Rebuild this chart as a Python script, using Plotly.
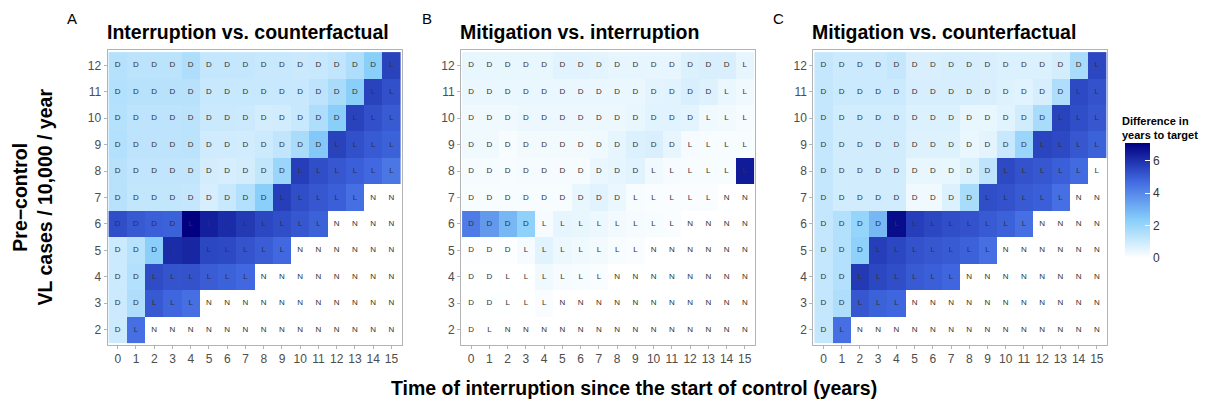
"""Years-to-target difference heatmaps — three panels with D/L/N cell labels."""

import plotly.graph_objects as go

# page body adds an 8px margin, so the figure is 8px smaller and shifted
OFF = 8
W, H = 1208 - OFF, 406 - OFF
FONT = "Liberation Sans, Arial, Helvetica, sans-serif"
TICK_GREY = "#4D4D4D"
LINE_GREY = "#B3B3B3"

X_YEARS = list(range(16))
Y_CASES = [12, 11, 10, 9, 8, 7, 6, 5, 4, 3, 2]

# cell letters, rows from 12 down to 2 (same in all three panels)
LETTERS = [
    "DDDDDDDDDDDDDDDL",
    "DDDDDDDDDDDDDDLL",
    "DDDDDDDDDDDDDLLL",
    "DDDDDDDDDDDDLLLL",
    "DDDDDDDDDDLLLLLL",
    "DDDDDDDDDLLLLLNN",
    "DDDDLLLLLLLLNNNN",
    "DDDLLLLLLLNNNNNN",
    "DDLLLLLLNNNNNNNN",
    "DDLLLNNNNNNNNNNN",
    "DLNNNNNNNNNNNNNN",
]

N = None

# A: interruption vs counterfactual
VAL_A = [
    [1.45, 1.35, 1.35, 1.35, 1.6, 1.15, 1.15, 1.15, 1.1, 1.1, 1.05, 1.1, 1.25, 1.6, 2.3, 5.6],
    [1.5, 1.4, 1.4, 1.4, 1.4, 1.1, 1.1, 1.1, 1.1, 1.1, 1.1, 1.3, 1.7, 2.3, 5.6, 5.3],
    [1.45, 1.3, 1.3, 1.3, 1.35, 1.05, 1.05, 1.0, 0.85, 0.9, 1.1, 1.6, 2.3, 5.6, 5.3, 5.05],
    [1.5, 1.3, 1.3, 1.3, 1.35, 0.95, 0.95, 0.9, 1.0, 1.25, 1.7, 2.5, 5.6, 5.3, 5.05, 4.9],
    [1.4, 1.25, 1.25, 1.25, 1.25, 0.85, 0.8, 0.85, 1.2, 2.0, 5.7, 5.35, 5.15, 4.95, 4.75, 4.4],
    [1.4, 1.2, 1.2, 1.2, 1.15, 0.8, 1.1, 1.5, 2.3, 5.7, 5.35, 5.15, 4.95, 4.6, N, N],
    [5.35, 5.1, 4.95, 4.9, 7.1, 6.4, 6.1, 5.8, 5.5, 5.35, 5.15, 4.9, N, N, N, N],
    [1.0, 1.4, 2.3, 6.1, 6.25, 5.5, 5.45, 5.2, 5.0, 4.75, N, N, N, N, N, N],
    [1.0, 1.5, 5.4, 5.2, 5.25, 5.0, 4.9, 4.75, N, N, N, N, N, N, N, N],
    [1.0, 1.6, 5.1, 4.8, 4.6, N, N, N, N, N, N, N, N, N, N, N],
    [1.0, 4.6, N, N, N, N, N, N, N, N, N, N, N, N, N, N],
]

# B: mitigation vs interruption
VAL_B = [
    [0.45, 0.45, 0.45, 0.45, 0.45, 0.6, 0.6, 0.55, 0.5, 0.5, 0.5, 0.5, 0.7, 0.75, 0.75, 0.5],
    [0.4, 0.4, 0.4, 0.4, 0.4, 0.4, 0.4, 0.4, 0.4, 0.4, 0.55, 0.6, 0.75, 0.65, 0.4, 0.3],
    [0.3, 0.3, 0.3, 0.35, 0.35, 0.35, 0.35, 0.35, 0.35, 0.45, 0.6, 0.6, 0.55, 0.3, 0.25, 0.2],
    [0.3, 0.3, 0.15, 0.25, 0.25, 0.25, 0.25, 0.3, 0.5, 0.7, 0.75, 0.5, 0.2, 0.15, 0.15, 0.15],
    [0.2, 0.2, 0.15, 0.2, 0.2, 0.2, 0.2, 0.4, 0.5, 0.6, 0.3, 0.2, 0.15, 0.15, 0.15, 6.5],
    [0.15, 0.15, 0.15, 0.15, 0.15, 0.15, 0.45, 0.6, 0.4, 0.15, 0.1, 0.1, 0.1, 0.1, N, N],
    [4.3, 3.6, 2.9, 2.2, 0.2, 0.5, 0.45, 0.35, 0.25, 0.2, 0.15, 0.1, N, N, N, N],
    [0.05, 0.05, 0.05, 0.2, 0.6, 0.35, 0.3, 0.25, 0.15, 0.1, N, N, N, N, N, N],
    [0.02, 0.02, 0.02, 0.02, 0.3, 0.2, 0.15, 0.1, N, N, N, N, N, N, N, N],
    [0.02, 0.02, 0.02, 0.02, 0.1, N, N, N, N, N, N, N, N, N, N, N],
    [0.0, 0.0, N, N, N, N, N, N, N, N, N, N, N, N, N, N],
]

# C: mitigation vs counterfactual
VAL_C = [
    [1.15, 1.0, 1.0, 1.0, 1.15, 0.75, 0.75, 0.8, 0.8, 0.75, 0.7, 0.7, 0.7, 0.85, 1.7, 5.5],
    [1.15, 1.0, 1.0, 1.0, 1.0, 0.8, 0.8, 0.8, 0.8, 0.75, 0.65, 0.6, 0.8, 1.6, 5.45, 5.25],
    [1.15, 0.9, 0.9, 0.9, 0.9, 0.7, 0.7, 0.7, 0.45, 0.45, 0.6, 0.9, 1.7, 5.6, 5.35, 5.15],
    [1.15, 0.9, 0.9, 0.9, 0.9, 0.65, 0.65, 0.65, 0.4, 0.55, 1.1, 2.0, 5.55, 5.45, 5.15, 4.9],
    [1.15, 0.9, 0.9, 0.9, 0.9, 0.45, 0.45, 0.45, 0.7, 1.3, 5.45, 5.25, 5.15, 4.95, 4.7, N],
    [1.15, 0.9, 0.9, 0.9, 0.9, 0.3, 0.3, 0.7, 1.7, 5.35, 5.25, 5.05, 4.95, 4.6, N, N],
    [1.15, 1.5, 2.1, 2.9, 6.8, 5.7, 5.5, 5.35, 5.25, 5.05, 4.9, 4.6, N, N, N, N],
    [1.15, 1.5, 2.2, 5.7, 5.5, 5.25, 5.15, 5.05, 4.9, 4.6, N, N, N, N, N, N],
    [1.15, 1.5, 5.8, 5.5, 5.35, 5.05, 4.95, 4.8, N, N, N, N, N, N, N, N],
    [1.15, 1.6, 5.15, 4.9, 4.8, N, N, N, N, N, N, N, N, N, N, N],
    [1.15, 4.6, N, N, N, N, N, N, N, N, N, N, N, N, N, N],
]

PANELS = [
    ("A", "Interruption vs. counterfactual", VAL_A),
    ("B", "Mitigation vs. interruption", VAL_B),
    ("C", "Mitigation vs. counterfactual", VAL_C),
]

# pixel geometry (screen pixels) of the three plot areas
PANEL_X = [(107.5, 401.7), (461.0, 755.0), (813.3, 1107.0)]
PANEL_Y = (50.0, 345.0)


def px(x):
    return (x - OFF) / W


def py(y):
    return 1 - (y - OFF) / H


fig = go.Figure()

text_x = [x for row in LETTERS for x in X_YEARS]
text_y = [y for y, row in zip(Y_CASES, LETTERS) for _ in row]
text_s = [ch for row in LETTERS for ch in row]

for i, (tag, title, vals) in enumerate(PANELS):
    sfx = "" if i == 0 else str(i + 1)
    fig.add_trace(
        go.Heatmap(
            x=X_YEARS,
            y=Y_CASES,
            z=vals,
            coloraxis="coloraxis",
            xaxis="x" + sfx,
            yaxis="y" + sfx,
            hoverongaps=False,
        )
    )
    fig.add_trace(
        go.Scatter(
            x=text_x,
            y=text_y,
            text=text_s,
            mode="text",
            textfont=dict(size=8, color="#333333", family=FONT),
            xaxis="x" + sfx,
            yaxis="y" + sfx,
            showlegend=False,
            hoverinfo="skip",
        )
    )

    x0, x1 = PANEL_X[i]
    axis_common = dict(
        showgrid=False,
        zeroline=False,
        showline=True,
        mirror=True,
        linecolor=LINE_GREY,
        linewidth=1,
        ticks="outside",
        ticklen=3,
        tickcolor=LINE_GREY,
        tickfont=dict(size=12, color=TICK_GREY, family=FONT),
        fixedrange=True,
    )
    fig.update_layout(
        {
            "xaxis" + sfx: dict(
                domain=[px(x0), px(x1)],
                range=[-0.56, 15.56],
                tickvals=X_YEARS,
                anchor="y" + sfx,
                **axis_common,
            ),
            "yaxis" + sfx: dict(
                domain=[py(PANEL_Y[1]), py(PANEL_Y[0])],
                range=[1.42, 12.58],
                tickvals=Y_CASES,
                anchor="x" + sfx,
                **axis_common,
            ),
        }
    )

    fig.add_annotation(
        text=tag, x=px([66, 421, 772][i]), y=py(18), xref="paper", yref="paper",
        xanchor="left", yanchor="middle", showarrow=False, borderpad=0,
        font=dict(size=15, color="black", family=FONT),
    )
    fig.add_annotation(
        text="<b>" + title + "</b>", x=px(x0 - 2), y=py(32), xref="paper", yref="paper",
        xanchor="left", yanchor="middle", showarrow=False, borderpad=0,
        font=dict(size=19.5, color="black", family=FONT),
    )

fig.add_annotation(
    text="<b>Pre\u2212control<br>VL cases / 10,000 / year</b>",
    x=px(32), y=py(197.5), xref="paper", yref="paper",
    xanchor="center", yanchor="middle", textangle=-90, showarrow=False,
    font=dict(size=19.5, color="black", family=FONT),
)
fig.add_annotation(
    text="<b>Time of interruption since the start of control (years)</b>",
    x=px(634), y=py(388), xref="paper", yref="paper",
    xanchor="center", yanchor="middle", showarrow=False,
    font=dict(size=19.5, color="black", family=FONT),
)
fig.add_annotation(
    text="<b>Difference in<br>years to target</b>",
    x=px(1121), y=py(127.5), xref="paper", yref="paper",
    xanchor="left", yanchor="middle", align="left", showarrow=False, borderpad=0,
    font=dict(size=11, color="black", family=FONT),
)

fig.update_layout(
    width=W,
    height=H,
    margin=dict(l=0, r=0, t=0, b=0),
    paper_bgcolor="white",
    plot_bgcolor="white",
    font=dict(family=FONT),
    showlegend=False,
    coloraxis=dict(
        cmin=0,
        cmax=7.1,
        colorscale=[
            [0.0, "#FFFFFF"],
            [1 / 3, "#87CEFA"],
            [2 / 3, "#4169E1"],
            [1.0, "#000080"],
        ],
        colorbar=dict(
            x=px(1125),
            xanchor="left",
            y=py(200.5),
            yanchor="middle",
            lenmode="pixels",
            len=115,
            thicknessmode="pixels",
            thickness=25,
            outlinewidth=0,
            xpad=0,
            ypad=0,
            tickvals=[0, 2, 4, 6],
            ticks="inside",
            ticklen=5,
            tickcolor="white",
            tickfont=dict(size=12, color="#333333", family=FONT),
        ),
    ),
)

fig.write_html("out.html")
